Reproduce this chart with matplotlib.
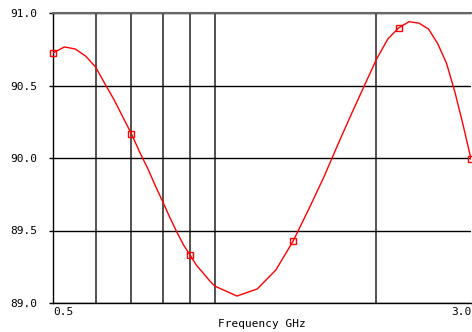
import matplotlib
matplotlib.use("Agg")
import matplotlib.pyplot as plt
import numpy as np

# trace (frequency in GHz, value)
freq = [0.5, 0.525, 0.55, 0.575, 0.6, 0.625, 0.65, 0.675, 0.7, 0.725,
        0.75, 0.775, 0.8, 0.825, 0.85, 0.875, 0.9, 0.925, 0.95, 0.975,
        1.0, 1.1, 1.2, 1.3, 1.4, 1.5, 1.6, 1.7, 1.8, 1.9,
        2.0, 2.1, 2.2, 2.3, 2.4, 2.5, 2.6, 2.7, 2.8, 2.9, 3.0]
value = [90.724, 90.766, 90.752, 90.703, 90.628, 90.51, 90.40, 90.28, 90.166, 90.04,
         89.93, 89.81, 89.70, 89.59, 89.49, 89.40, 89.33, 89.26, 89.21, 89.16,
         89.117, 89.048, 89.097, 89.228, 89.428, 89.655, 89.876, 90.103, 90.31, 90.50,
         90.68, 90.82, 90.897, 90.94, 90.93, 90.89, 90.79, 90.655, 90.455, 90.228, 89.993]

# marker positions
mark_freq = [0.5, 0.7, 0.9, 1.4, 2.2, 3.0]
mark_value = [90.724, 90.166, 89.33, 89.428, 90.897, 89.993]

yticks = [89.0, 89.5, 90.0, 90.5, 91.0]
vgrid = [0.6, 0.7, 0.8, 0.9, 1.0, 2.0]

mono = "DejaVu Sans Mono"

fig = plt.figure(figsize=(4.72, 3.32), dpi=100)
ax = fig.add_axes([53 / 472, 29 / 332, 418 / 472, 290 / 332])

ax.plot(freq, value, color="#ff0000", lw=1.0, zorder=3)
ax.plot(mark_freq, mark_value, ls="none", marker="s", ms=5, mfc="none",
        mec="#ff0000", mew=1.0, zorder=4, clip_on=False)

ax.set_xscale("log")
ax.set_xlim(0.5, 3.0)
ax.set_ylim(89.0, 91.0)

ax.set_xticks([0.5, 3.0])
ax.set_xticklabels(["0.5", "3.0"], family=mono, fontsize=8)
labs = ax.get_xticklabels()
labs[0].set_ha("left")
labs[1].set_ha("right")
ax.set_xticks(vgrid, minor=True)
ax.xaxis.set_minor_formatter(matplotlib.ticker.NullFormatter())
ax.tick_params(axis="x", which="both", length=0, pad=3)

ax.set_yticks(yticks)
ax.set_yticklabels(["%.1f" % v for v in yticks], family=mono, fontsize=8)
ax.tick_params(axis="y", length=3, width=1, pad=8, color="black")

ax.grid(True, axis="x", which="minor", color="#222222", lw=1.1)
ax.grid(True, axis="y", which="major", color="black", lw=1.0)
ax.grid(False, axis="x", which="major")

ax.set_xlabel("Frequency GHz", family=mono, fontsize=8, labelpad=1)

ax.spines["right"].set_visible(False)
ax.spines["top"].set_color("#666666")
ax.spines["top"].set_linewidth(1.5)
ax.spines["left"].set_linewidth(1.0)
ax.spines["bottom"].set_linewidth(1.0)

fig.savefig("out.png", dpi=100)
